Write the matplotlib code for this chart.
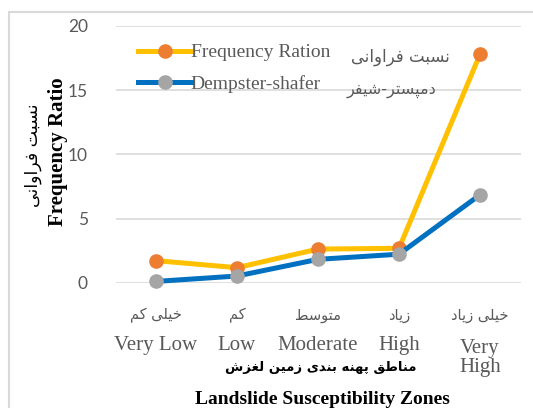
import matplotlib
matplotlib.use("Agg")
import matplotlib.pyplot as plt
from matplotlib.lines import Line2D
from matplotlib.patches import Rectangle

# data
zones_en = ["Very Low", "Low", "Moderate", "High", "Very\nHigh"]
zones_fa = ["خیلی کم", "کم", "متوسط", "زیاد", "خیلی زیاد"]
freq_ratio = [1.72, 1.17, 2.62, 2.68, 17.8]
dempster = [0.10, 0.52, 1.82, 2.22, 6.85]
yticks = [0, 5, 10, 15, 20]


# matplotlib has no arabic shaping, so pick presentation forms by hand
# (isolated, final, initial, medial); None = letter does not join forward
FORMS = {
    "ا": ("\uFE8D", "\uFE8E", None, None),
    "ب": ("\uFE8F", "\uFE90", "\uFE91", "\uFE92"),
    "پ": ("\uFB56", "\uFB57", "\uFB58", "\uFB59"),
    "ت": ("\uFE95", "\uFE96", "\uFE97", "\uFE98"),
    "خ": ("\uFEA5", "\uFEA6", "\uFEA7", "\uFEA8"),
    "د": ("\uFEA9", "\uFEAA", None, None),
    "ر": ("\uFEAD", "\uFEAE", None, None),
    "ز": ("\uFEAF", "\uFEB0", None, None),
    "س": ("\uFEB1", "\uFEB2", "\uFEB3", "\uFEB4"),
    "ش": ("\uFEB5", "\uFEB6", "\uFEB7", "\uFEB8"),
    "ط": ("\uFEC1", "\uFEC2", "\uFEC3", "\uFEC4"),
    "غ": ("\uFECD", "\uFECE", "\uFECF", "\uFED0"),
    "ف": ("\uFED1", "\uFED2", "\uFED3", "\uFED4"),
    "ق": ("\uFED5", "\uFED6", "\uFED7", "\uFED8"),
    "ک": ("\uFB8E", "\uFB8F", "\uFB90", "\uFB91"),
    "ل": ("\uFEDD", "\uFEDE", "\uFEDF", "\uFEE0"),
    "م": ("\uFEE1", "\uFEE2", "\uFEE3", "\uFEE4"),
    "ن": ("\uFEE5", "\uFEE6", "\uFEE7", "\uFEE8"),
    "ه": ("\uFEE9", "\uFEEA", "\uFEEB", "\uFEEC"),
    "و": ("\uFEED", "\uFEEE", None, None),
    "ی": ("\uFBFC", "\uFBFD", "\uFBFE", "\uFBFF"),
}


def fa(s):
    out = []
    for i, ch in enumerate(s):
        if ch not in FORMS:
            out.append(ch)
            continue
        prev = s[i - 1] if i > 0 else ""
        nxt = s[i + 1] if i + 1 < len(s) else ""
        join_prev = prev in FORMS and FORMS[prev][2] is not None
        join_next = FORMS[ch][2] is not None and nxt in FORMS
        iso, fin, ini, med = FORMS[ch]
        if join_prev and join_next:
            out.append(med)
        elif join_prev:
            out.append(fin)
        elif join_next:
            out.append(ini)
        else:
            out.append(iso)
    return "".join(reversed(out))


SERIF = ["Liberation Serif", "DejaVu Serif"]
ARAB = ["DejaVu Sans"]
GRAY = "#595959"

fig = plt.figure(figsize=(5.33, 4.08), dpi=100)
W, H = 533, 408

# light chart frame, running off the right and bottom edges
fig.patches.append(Rectangle((9 / W, -0.1), 1.0, 1.1 - 12 / H, transform=fig.transFigure,
                             fill=False, edgecolor="#D9D9D9", lw=1.5))

ax = fig.add_axes([115.5 / W, 1 - 282.7 / H, 405 / W, 256.7 / H])
x = list(range(len(zones_en)))

ax.plot(x, freq_ratio, color="#FFC000", lw=3.6, marker="o", ms=9.5,
        mfc="#ED7D31", mec="#ED7D31", clip_on=False, zorder=3)
ax.plot(x, dempster, color="#0070C0", lw=3.6, marker="o", ms=9.5,
        mfc="#A5A5A5", mec="#A5A5A5", clip_on=False, zorder=4)

ax.set_xlim(-0.5, 4.5)
ax.set_ylim(0, 20)
ax.set_yticks(yticks)
ax.set_xticks([])
ax.yaxis.grid(True, color="#D9D9D9", lw=1.2)
ax.set_axisbelow(True)
for sp in ax.spines.values():
    sp.set_visible(False)
ax.tick_params(axis="y", length=0, pad=20, labelsize=12.5, labelcolor=GRAY)
for lab in ax.get_yticklabels():
    lab.set_family(["Lato", "DejaVu Sans"])

# two-line category labels: persian above, english below
for i in x:
    ax.annotate(fa(zones_fa[i]), (i, 0), xycoords=("data", "axes fraction"),
                xytext=(0, -33), textcoords="offset pixels", ha="center", va="center",
                family=ARAB, fontsize=10.5, color=GRAY)
    off = -75 if "\n" in zones_en[i] else -63
    ax.annotate(zones_en[i], (i, 0), xycoords=("data", "axes fraction"),
                xytext=(0, off), textcoords="offset pixels", ha="center", va="center",
                family=SERIF, fontsize=15, color=GRAY, linespacing=1.0)

# axis titles
fig.text(321 / W, 1 - 368 / H, fa("مناطق پهنه بندی زمین لغزش"), ha="center", va="center",
         family=ARAB, fontsize=9.5, fontweight="bold", color="black")
fig.text(322 / W, 1 - 400 / H, "Landslide Susceptibility Zones", ha="center", va="center",
         family=SERIF, fontsize=14, fontweight="bold", color="black")
fig.text(58 / W, 1 - 152 / H, "Frequency Ratio", ha="center", va="center", rotation=90,
         family=SERIF, fontsize=15, fontweight="bold", color="black")
fig.text(33 / W, 1 - 155 / H, fa("نسبت فراوانی"), ha="center", va="center", rotation=90,
         family=ARAB, fontsize=12.5, color="black")

# legend
handles = [
    Line2D([], [], color="#FFC000", lw=3.6, marker="o", ms=9.5, mfc="#ED7D31", mec="#ED7D31"),
    Line2D([], [], color="#0070C0", lw=3.6, marker="o", ms=9.5, mfc="#A5A5A5", mec="#A5A5A5"),
]
leg = ax.legend(handles, ["Frequency Ration", "Dempster-shafer"], loc="upper left",
                bbox_to_anchor=(15 / 405, 1 - 10 / 256.7), frameon=False,
                handlelength=2.7, handletextpad=0.0, labelspacing=0.72, borderaxespad=0,
                prop={"family": SERIF, "size": 14})
for t in leg.get_texts():
    t.set_color(GRAY)
fig.text(400 / W, 1 - 57 / H, fa("نسبت فراوانی"), ha="center", va="center",
         family=ARAB, fontsize=12, color=GRAY)
fig.text(391 / W, 1 - 90 / H, fa("دمپستر-شیفر"), ha="center", va="center",
         family=ARAB, fontsize=11.5, color=GRAY)

fig.savefig("out.png", dpi=100)
